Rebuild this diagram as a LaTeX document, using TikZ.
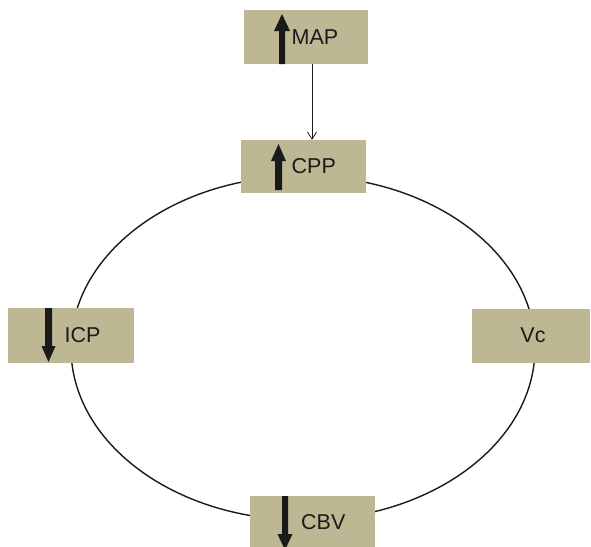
\documentclass[tikz,border=0pt]{standalone}
\usepackage{fontspec}
\setmainfont{Liberation Sans}
\usetikzlibrary{arrows.meta}
\definecolor{boxfill}{HTML}{BDB893}
\definecolor{ink}{HTML}{1A1A1A}
\tikzset{
  tanbox/.style={draw=none, fill=boxfill, inner sep=0pt},
  lbl/.style={font=\fontsize{21.5}{21.5}\selectfont, text=ink, inner sep=0pt, anchor=west},
  bigarrow/.style={fill=ink, draw=none},
  cycleline/.style={draw=ink, line width=1.4pt},
  feed/.style={draw=ink, line width=0.8pt, -{Straight Barb[length=7pt, width=9pt]}}
}
\begin{document}
\begin{tikzpicture}[x=1pt, y=-1pt]
  \useasboundingbox (0,0) rectangle (591,546);
  % the cycle
  \draw[cycleline] (303,348) ellipse [x radius=232, y radius=172];
  % boxes
  \node[tanbox, minimum width=124pt, minimum height=54pt] (map) at (306,37) {};
  \node[tanbox, minimum width=125pt, minimum height=53pt] (cpp) at (303.5,166.5) {};
  \node[tanbox, minimum width=126pt, minimum height=55pt] (icp) at (71,335.5) {};
  \node[tanbox, minimum width=118pt, minimum height=54pt] (vc)  at (531,336) {};
  \node[tanbox, minimum width=125pt, minimum height=54pt] (cbv) at (312.5,523) {};
  % labels
  \node[lbl] (maptxt) at (291.5,37) {MAP};
  \node[lbl] (cpptxt) at (291.5,166) {CPP};
  \node[lbl] (icptxt) at (64.5,335) {ICP};
  \node[lbl, anchor=center] (vctxt) at (533,335) {Vc};
  \node[lbl] (cbvtxt) at (301,522) {CBV};
  % rising / falling markers
  \fill[bigarrow] (279,64) -- (279,31) -- (274,31) -- (282,14) -- (290,31) -- (285,31) -- (285,64) -- cycle;
  \fill[bigarrow] (275,190) -- (275,161) -- (271,161) -- (278.5,144) -- (286,161) -- (282,161) -- (282,190) -- cycle;
  \fill[bigarrow] (45,308) -- (45,346) -- (41.5,346) -- (48.5,362) -- (55.5,346) -- (52,346) -- (52,308) -- cycle;
  \fill[bigarrow] (282,496) -- (282,534) -- (277.5,534) -- (285,550) -- (292.5,534) -- (288,534) -- (288,496) -- cycle;
  % MAP drives CPP
  \draw[feed] (map.south -| 312,0) -- (cpp.north -| 312,0);
\end{tikzpicture}
\end{document}
